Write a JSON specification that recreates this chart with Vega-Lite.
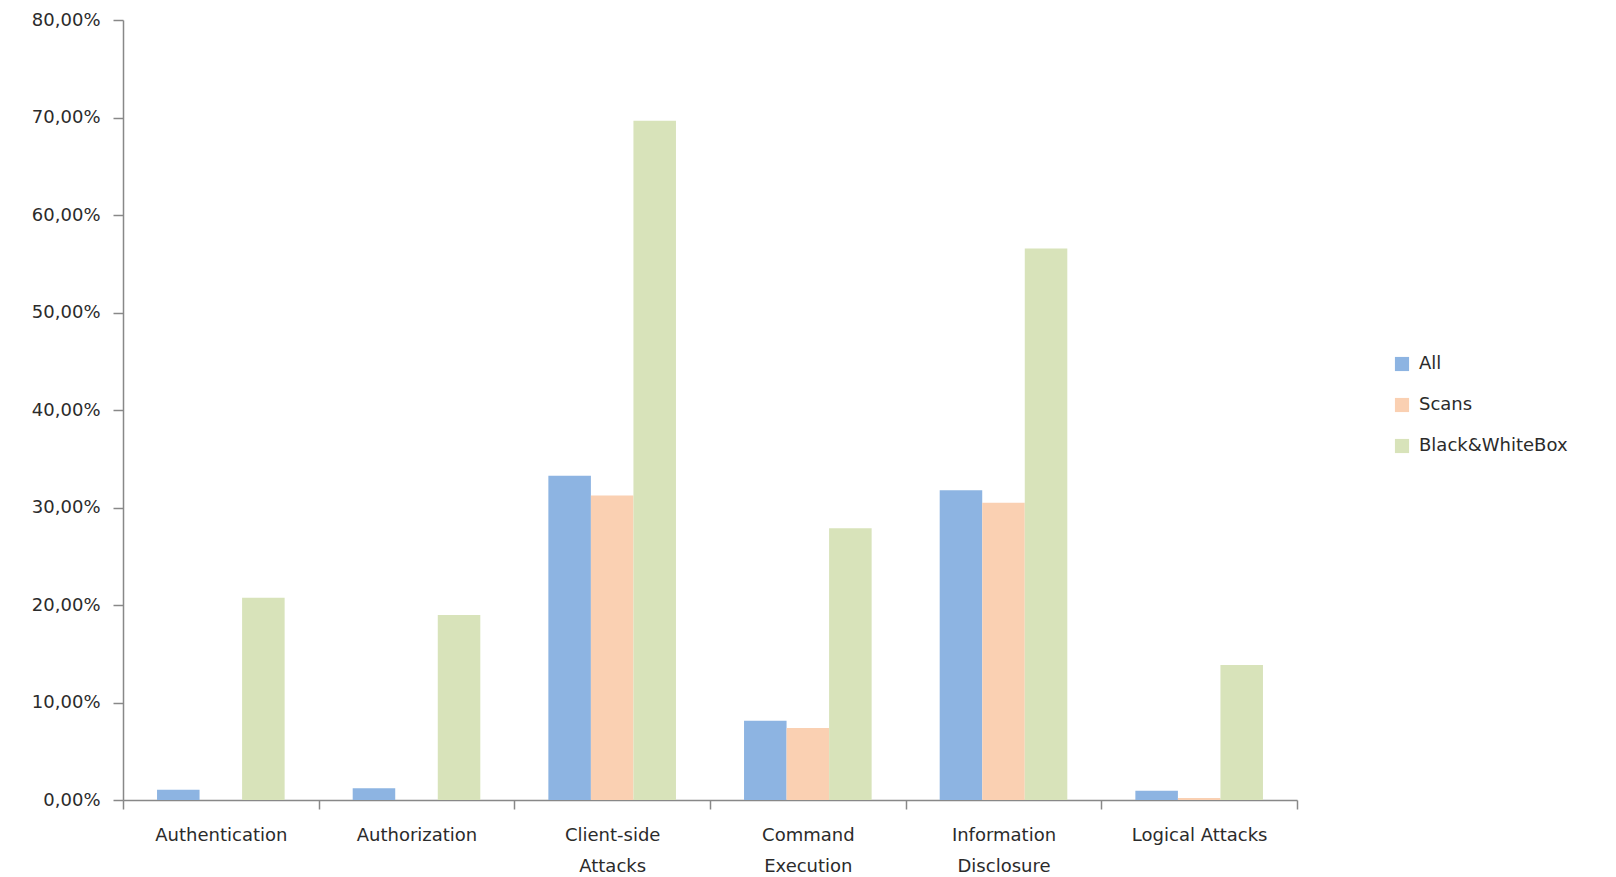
{
  "$schema": "https://vega.github.io/schema/vega-lite/v6.json",
  "width": 1174,
  "height": 780,
  "autosize": {"type": "none"},
  "padding": {"left": 123, "top": 20, "right": 319, "bottom": 77},
  "background": "white",
  "config": {
    "view": {"stroke": null},
    "font": "DejaVu Sans",
    "axis": {
      "domainColor": "#888888",
      "tickColor": "#888888",
      "domainWidth": 1.5,
      "tickWidth": 1.5,
      "labelColor": "#2b2b2b",
      "labelFont": "DejaVu Sans",
      "labelFontSize": 18,
      "grid": false,
      "title": null
    },
    "legend": {
      "labelFont": "DejaVu Sans",
      "labelFontSize": 18,
      "labelColor": "#2b2b2b"
    }
  },
  "data": {
    "values": [
      {"category": "Authentication", "series": "All", "value": 1.05},
      {"category": "Authentication", "series": "Scans", "value": 0},
      {"category": "Authentication", "series": "Black&WhiteBox", "value": 20.75},
      {"category": "Authorization", "series": "All", "value": 1.2},
      {"category": "Authorization", "series": "Scans", "value": 0},
      {"category": "Authorization", "series": "Black&WhiteBox", "value": 18.97},
      {"category": "Client-side Attacks", "series": "All", "value": 33.25},
      {"category": "Client-side Attacks", "series": "Scans", "value": 31.24},
      {"category": "Client-side Attacks", "series": "Black&WhiteBox", "value": 69.66},
      {"category": "Command Execution", "series": "All", "value": 8.13},
      {"category": "Command Execution", "series": "Scans", "value": 7.39},
      {"category": "Command Execution", "series": "Black&WhiteBox", "value": 27.86},
      {"category": "Information Disclosure", "series": "All", "value": 31.77},
      {"category": "Information Disclosure", "series": "Scans", "value": 30.5},
      {"category": "Information Disclosure", "series": "Black&WhiteBox", "value": 56.57},
      {"category": "Logical Attacks", "series": "All", "value": 0.95},
      {"category": "Logical Attacks", "series": "Scans", "value": 0.2},
      {"category": "Logical Attacks", "series": "Black&WhiteBox", "value": 13.85}
    ]
  },
  "mark": {"type": "bar"},
  "encoding": {
    "x": {
      "field": "category",
      "type": "nominal",
      "sort": null,
      "scale": {"paddingInner": 0, "paddingOuter": 0},
      "axis": {
        "labelAngle": 0,
        "tickBand": "extent",
        "tickSize": 9,
        "labelPadding": 17,
        "labelLineHeight": 31,
        "labelBaseline": "top",
        "labelExpr": "indexof(['Client-side Attacks','Command Execution','Information Disclosure'], datum.value) >= 0 ? split(datum.value, ' ') : datum.value"
      }
    },
    "xOffset": {
      "field": "series",
      "type": "nominal",
      "sort": ["All", "Scans", "Black&WhiteBox"],
      "scale": {"paddingInner": 0, "paddingOuter": 0.8}
    },
    "y": {
      "field": "value",
      "type": "quantitative",
      "scale": {"domain": [0, 80], "nice": false},
      "axis": {
        "values": [0, 10, 20, 30, 40, 50, 60, 70, 80],
        "tickSize": 10,
        "labelPadding": 13,
        "labelExpr": "replace(format(datum.value, '.2f'), '.', ',') + '%'"
      }
    },
    "color": {
      "field": "series",
      "type": "nominal",
      "sort": ["All", "Scans", "Black&WhiteBox"],
      "scale": {
        "domain": ["All", "Scans", "Black&WhiteBox"],
        "range": ["#8DB4E2", "#FAD0B2", "#D8E3BA"]
      },
      "legend": {
        "title": null,
        "orient": "none",
        "legendX": 1270,
        "legendY": 335,
        "symbolType": "square",
        "symbolSize": 200,
        "symbolStrokeWidth": 0,
        "rowPadding": 23,
        "labelOffset": 8
      }
    }
  }
}
